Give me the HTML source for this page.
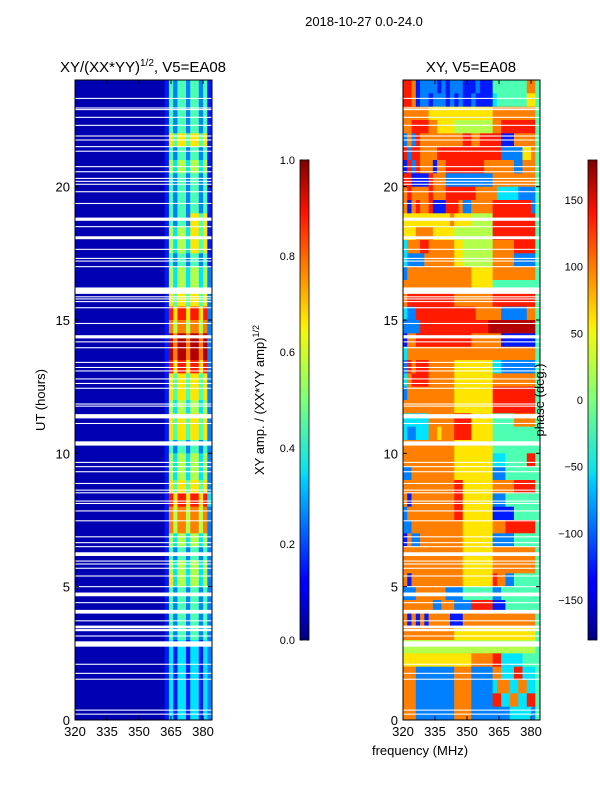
<!DOCTYPE html>
<html><head><meta charset="utf-8"><style>
html,body{margin:0;padding:0;background:#fff;}
svg{display:block;font-family:"Liberation Sans","DejaVu Sans",sans-serif;}
</style></head><body>
<svg id="fig" width="600" height="800" viewBox="0 0 600 800" xmlns="http://www.w3.org/2000/svg">
<defs>
<linearGradient id="jet" x1="0" y1="1" x2="0" y2="0">
<stop offset="0" stop-color="#00007f"/><stop offset="0.11" stop-color="#0000ff"/><stop offset="0.125" stop-color="#0000ff"/>
<stop offset="0.34" stop-color="#00d4ff"/><stop offset="0.35" stop-color="#0ae0ef"/><stop offset="0.5" stop-color="#7dff7a"/>
<stop offset="0.64" stop-color="#f0f90d"/><stop offset="0.66" stop-color="#ffea00"/><stop offset="0.89" stop-color="#ff1300"/>
<stop offset="1" stop-color="#7f0000"/>
</linearGradient>
</defs>
<text x="364" y="26" font-size="13" text-anchor="middle">2018-10-27 0.0-24.0</text>
<text x="143" y="72" font-size="15" text-anchor="middle">XY/(XX*YY)<tspan font-size="10" dy="-6">1/2</tspan><tspan dy="6">, V5=EA08</tspan></text>
<text x="471" y="72" font-size="15" text-anchor="middle">XY, V5=EA08</text>
<text transform="translate(45,400) rotate(-90)" font-size="13" text-anchor="middle">UT (hours)</text>
<text x="420" y="755" font-size="13" text-anchor="middle">frequency (MHz)</text>
<g id="ampPanel"></g>
<g id="phasePanel"></g>
<g id="axes"></g>
<rect x="300" y="160" width="9" height="480" fill="url(#jet)" stroke="#000" stroke-width="0.8"/>
<rect x="588" y="160" width="9" height="480" fill="url(#jet)" stroke="#000" stroke-width="0.8"/>
<text transform="translate(264,400) rotate(-90)" font-size="13" text-anchor="middle">XY amp. / (XX*YY amp)<tspan font-size="9" dy="-5">1/2</tspan></text>
<text transform="translate(544,400) rotate(-90)" font-size="13" text-anchor="middle">phase (deg.)</text>
</svg>
<script>
const freqMin = 320, freqMax = 384.2, tMin = 0, tMax = 24;
const xTicks = [320, 335, 350, 365, 380];
const yTicks = [0, 5, 10, 15, 20];
const ampTicks = [0.0, 0.2, 0.4, 0.6, 0.8, 1.0];
const phaseTicks = [-150, -100, -50, 0, 50, 100, 150];
const chanWidth = 2; // MHz per column
// amplitude rows, top (24h) to bottom (0h), half-hour rows, digit d -> d/10+0.05
const ampRows = [
"00000000000000000000014244244241","00000000000000000000014244244241","00000000000000000000014244244241","00000000000000000000014244244241",
"00000000000000000000016466466461","00000000000000000000014244244241","00000000000000000000015355355351","00000000000000000000014244244241",
"00000000000000000000014244244241","00000000000000000000014244244241","00000000000000000000014244266461","00000000000000000000015355366461",
"00000000000000000000015355366461","00000000000000000000014244244241","00000000000000000000015355355352","00000000000000000000015355355352",
"00000000000000000000016466466462","00000000000000000000018688688682","00000000000000000000017577577572","00000000000000000000019799799792",
"00000000000000000000019799799792","00000000000000000000018688688682","00000000000000000000016466466462","00000000000000000000016466466462",
"00000000000000000000015355355352","00000000000000000000016466466462","00000000000000000000016466466462","00000000000000000000014244244242",
"00000000000000000000015355355352","00000000000000000000015355355352","00000000000000000000016466466462","00000000000000000000018688688683",
"00000000000000000000017577577572","00000000000000000000017577577572","00000000000000000000015355355352","00000000000000000000014244244242",
"00000000000000000000015355355352","00000000000000000000016355355352","00000000000000000000014244244242","00000000000000000000014244244242",
"00000000000000000000014244244242","00000000000000000000014244244242","00000000000000000000013133133132","00000000000000000000013133133132",
"00000000000000000000013133133132","00000000000000000000013133133132","00000000000000000000013133133132","00000000000000000000013133133132"
];
// phase rows, digit d -> (d+0.5)/10 of the -180..180 range
const phaseRows = [
"88712222121222111211144444444774","88712212221212112111134444444664","77777766666666666666677777777774","77888877666655555555577888888884",
"27287777777777887788888111777774","82887777888888888888888222226674","18287771778888888887777777227774","88111187772222222222277777777774",
"78777787778888888777773333322224","71787781118887227777788888888824","66666666666766665555588888888884","66677776666655555555588888888884",
"37778877777766555555577777888884","32222777777766555555577777222224","27777777777777776666677777777774","77777777777777776666644444444444",
"78888888888877777777788888888884","32288888888888888777777222222774","22228888888888888888999999999994","17788888888888887777777111111114",
"37777777777777777777777777777774","28788877777766666666633222222224","37888877777766666666677777777774","27777777777766666666688888888884",
"77777777777766666666688888888884","33333377777788886666644444777774","32233377677788886666644444444444","77777777777766666666644444444444",
"77777777777766666666633344444884","22777777777766666666622244444444","77777777777788666666677777888884","71777777777788666666622244444444",
"27777777777788666666611111444444","22777777777777666666677788888884","17227777777777666666622222444444","77777777777777666666677777777774",
"77777777777777666666677777777774","71777777777777666666687722444444","22277777772222444444422444444444","77777772277722228888811144444444",
"71717177777111777777777777777774","77777777777766666666666666666664","55555555555555555555555555555554","66666666666666667777788333334444",
"77722222222277772222277333883334","77722222222277772222237773377334","77722222222277772222288337733884","77722222222277772222222223333324"
];
// flagged (blank) time ranges: [start hour, end hour]
const flagStart = [23.29,22.93,22.87,22.58,22.28,21.88,21.73,21.48,21.31,20.73,20.54,20.29,20.18,20.07,19.79,19.35,18.72,18.48,18.03,17.63,17.29,17.19,16.98,15.98,15.85,15.77,15.67,15.44,14.85,14.31,14.16,13.94,13.39,13.2,13.07,12.77,12.6,12.42,11.83,11.75,11.31,11.1,10.29,9.64,9.48,9.29,8.85,8.6,8.5,8.19,8.1,7.82,7.45,6.85,6.63,6.48,6.15,5.94,5.83,5.67,5.38,4.98,4.64,4.38,3.99,3.7,3.44,3.33,3.13,2.75,2.07,1.73,1.51,0.35,0.2];
const flagEnd   = [23.33,22.97,22.91,22.62,22.32,21.92,21.77,21.52,21.35,20.77,20.58,20.33,20.22,20.11,19.83,19.39,18.84,18.52,18.14,17.67,17.33,17.23,17.02,16.22,15.89,15.81,15.71,15.48,14.89,14.43,14.2,13.98,13.43,13.24,13.11,12.81,12.64,12.46,11.87,11.79,11.47,11.14,10.45,9.68,9.52,9.33,8.89,8.64,8.54,8.23,8.14,7.86,7.49,6.89,6.67,6.52,6.29,5.98,5.87,5.71,5.42,5.02,4.78,4.42,4.13,3.74,3.54,3.41,3.17,2.95,2.11,1.77,1.55,0.39,0.24];

const SVGNS = "http://www.w3.org/2000/svg";
function jet(v){
  v = Math.max(0, Math.min(1, v));
  const c = t => Math.round(255 * Math.max(0, Math.min(1, 1.5 - Math.abs(4 * v - t))));
  return "rgb(" + c(3) + "," + c(2) + "," + c(1) + ")";
}
function mk(tag, attrs, parent){
  const e = document.createElementNS(SVGNS, tag);
  for (const k in attrs) e.setAttribute(k, attrs[k]);
  parent.appendChild(e);
  return e;
}
function makeAxes(x0, x1, y0, y1){
  return {
    x: f => x0 + (f - freqMin) / (freqMax - freqMin) * (x1 - x0),
    y: t => y1 - (t - tMin) / (tMax - tMin) * (y1 - y0),
    x0: x0, x1: x1, y0: y0, y1: y1
  };
}
const ampAx = makeAxes(75, 212, 80, 720);
const phAx = makeAxes(403, 540, 80, 720);

function drawGrid(g, ax, rows, toValue, prefix){
  const nRows = rows.length;
  const dt = (tMax - tMin) / nRows;
  rows.forEach((row, i) => {
    const tTop = tMax - i * dt, tBot = tTop - dt;
    for (let j = 0; j < row.length; j++){
      const f0 = freqMin + j * chanWidth;
      const f1 = Math.min(freqMax, f0 + chanWidth + (j === row.length - 1 ? 1 : 0));
      const xa = ax.x(f0), xb = ax.x(f1);
      const r = mk("rect", {x: xa.toFixed(2), y: ax.y(tTop).toFixed(2), width: (xb - xa + 0.4).toFixed(2), height: (ax.y(tBot) - ax.y(tTop) + 0.4).toFixed(2), fill: jet(toValue(+row[j]))}, g);
      
      
    }
  });
  flagStart.forEach((s, k) => {
    const e = flagEnd[k];
    const r = mk("rect", {x: ax.x0, y: ax.y(e).toFixed(2), width: ax.x1 - ax.x0, height: Math.max(1, ax.y(s) - ax.y(e)).toFixed(2), fill: "#fff"}, g);
    
    
  });
}
drawGrid(document.getElementById("ampPanel"), ampAx, ampRows, d => d / 10 + 0.05, 'amp');
drawGrid(document.getElementById("phasePanel"), phAx, phaseRows, d => (d + 0.5) / 10, 'phase');

const axG = document.getElementById("axes");
[ampAx, phAx].forEach((ax, idx) => {
  const fr = mk("rect", {x: ax.x0, y: ax.y0, width: ax.x1 - ax.x0, height: ax.y1 - ax.y0, fill: "none", stroke: "#000", "stroke-width": 1}, axG);
  
  
  xTicks.forEach(f => {
    const x = ax.x(f);
    mk("line", {x1: x, x2: x, y1: ax.y1, y2: ax.y1 - 4, stroke: "#000"}, axG);
    mk("line", {x1: x, x2: x, y1: ax.y0, y2: ax.y0 + 4, stroke: "#000"}, axG);
    const t = mk("text", {x: x, y: ax.y1 + 16, "font-size": 13, "text-anchor": "middle"}, axG);
    t.textContent = f;
    
    
  });
  yTicks.forEach(v => {
    const y = ax.y(v);
    mk("line", {x1: ax.x0, x2: ax.x0 + 4, y1: y, y2: y, stroke: "#000"}, axG);
    mk("line", {x1: ax.x1, x2: ax.x1 - 4, y1: y, y2: y, stroke: "#000"}, axG);
    const t = mk("text", {x: ax.x0 - 5, y: y + 5, "font-size": 13, "text-anchor": "end"}, axG);
    t.textContent = v;
    
    
  });
});
function cbar(x, vmin, vmax, ticks, fmt, name){
  ticks.forEach(v => {
    const y = 640 - (v - vmin) / (vmax - vmin) * 480;
    mk("line", {x1: x, x2: x + 3, y1: y, y2: y, stroke: "#000"}, axG);
    mk("line", {x1: x + 9, x2: x + 6, y1: y, y2: y, stroke: "#000"}, axG);
    const t = mk("text", {x: x - 5, y: y + 4, "font-size": 11, "text-anchor": "end"}, axG);
    t.textContent = fmt(v);
    
    
  });
}
cbar(300, 0, 1, ampTicks, v => v.toFixed(1), 'amp-colorbar-tick');
cbar(588, -180, 180, phaseTicks, v => (v < 0 ? "\u2212" + (-v) : "" + v), 'phase-colorbar-tick');
</script>
</body></html>
